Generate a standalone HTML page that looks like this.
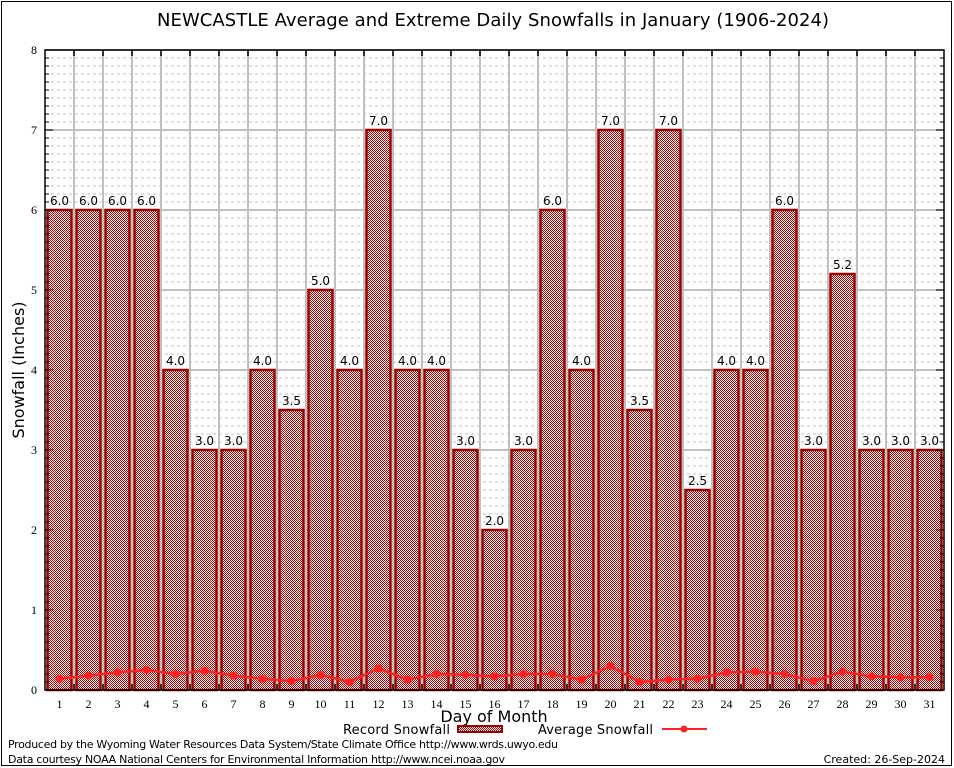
<!DOCTYPE html>
<html><head><meta charset="utf-8"><style>
body{margin:0;background:#fff}
svg{display:block;font-family:"DejaVu Sans","Liberation Sans",sans-serif}
</style></head><body>
<svg id="c" width="954" height="768" viewBox="0 0 954 768">
<defs>
<pattern id="chk" width="2" height="2" patternUnits="userSpaceOnUse">
<rect width="2" height="2" fill="#fff" shape-rendering="crispEdges"/><rect width="1" height="1" fill="#b00000" shape-rendering="crispEdges"/><rect x="1" y="1" width="1" height="1" fill="#b00000" shape-rendering="crispEdges"/>
</pattern>
</defs>
<rect x="1.5" y="1.5" width="950" height="764" fill="none" stroke="#000" stroke-width="1"/>
<text x="493" y="26" font-size="18" text-anchor="middle" textLength="672">NEWCASTLE Average and Extreme Daily Snowfalls in January (1906-2024)</text>
<g id="grid"></g>
<g id="bars"></g>
<g id="line"></g>
<g id="axes"></g>
<text transform="translate(24,370) rotate(-90)" font-size="16" text-anchor="middle">Snowfall (Inches)</text>
<text x="494" y="722" font-size="16" text-anchor="middle">Day of Month</text>
<g>
<text x="450" y="734" font-size="13" text-anchor="end" textLength="107">Record Snowfall</text>
<rect x="458" y="726" width="44" height="6" fill="url(#chk)" stroke="#990000" stroke-width="2"/>
</g>
<g>
<text x="653" y="734" font-size="13" text-anchor="end" textLength="115">Average Snowfall</text>
<line x1="662" y1="729" x2="707" y2="729" stroke="#ff2020" stroke-width="2"/>
<circle cx="684" cy="729" r="3.5" fill="#ff2020"/>
</g>
<text x="8" y="748" font-size="11" textLength="550">Produced by the Wyoming Water Resources Data System/State Climate Office http://www.wrds.uwyo.edu</text>
<text x="8" y="763" font-size="11" textLength="497">Data courtesy NOAA National Centers for Environmental Information http://www.ncei.noaa.gov</text>
<text x="945" y="763" font-size="11" text-anchor="end">Created: 26-Sep-2024</text>
</svg>
<script>
const days=[1,2,3,4,5,6,7,8,9,10,11,12,13,14,15,16,17,18,19,20,21,22,23,24,25,26,27,28,29,30,31];
const records=[6.0,6.0,6.0,6.0,4.0,3.0,3.0,4.0,3.5,5.0,4.0,7.0,4.0,4.0,3.0,2.0,3.0,6.0,4.0,7.0,3.5,7.0,2.5,4.0,4.0,6.0,3.0,5.2,3.0,3.0,3.0];
const averages=[0.14,0.18,0.22,0.25,0.2,0.24,0.18,0.14,0.11,0.19,0.1,0.27,0.13,0.2,0.19,0.17,0.2,0.2,0.13,0.3,0.1,0.13,0.14,0.22,0.23,0.2,0.11,0.23,0.17,0.16,0.16];
const yTicks=[0,1,2,3,4,5,6,7,8];
const NS='http://www.w3.org/2000/svg';
const L=45,R=944,T=50,B=690,YMAX=8;
const step=(R-L)/days.length;
function xc(i){return L+step*(i+0.5);}
function y(v){return B-(v/YMAX)*(B-T);}
function mk(tag,attrs,parent){const e=document.createElementNS(NS,tag);for(const k in attrs)e.setAttribute(k,attrs[k]);parent.appendChild(e);return e;}
const grid=document.getElementById('grid'),bars=document.getElementById('bars'),line=document.getElementById('line'),axes=document.getElementById('axes');
for(let m=1;m<YMAX*10;m++){if(m%10===0)continue;const yy=y(m/10);
 const g=mk('line',{x1:L,x2:R,y1:yy,y2:yy,stroke:'#c0c0c0','stroke-dasharray':'3,3','stroke-width':1},grid);
 
 
 mk('line',{x1:L,x2:L+4,y1:yy,y2:yy,stroke:'#000'},axes);mk('line',{x1:R-4,x2:R,y1:yy,y2:yy,stroke:'#000'},axes);}
yTicks.forEach(v=>{const yy=y(v);
 const g=mk('line',{x1:L,x2:R,y1:yy,y2:yy,stroke:'#c0c0c0','stroke-width':2},grid);
 
 
 mk('line',{x1:L,x2:L+8,y1:yy,y2:yy,stroke:'#000'},axes);mk('line',{x1:R-8,x2:R,y1:yy,y2:yy,stroke:'#000'},axes);
 const t=mk('text',{x:L-8,y:yy+4,'font-size':12,'text-anchor':'end','font-family':'Liberation Serif, serif'},axes);t.textContent=v;
 
 });
for(let i=1;i<days.length;i++){const xx=L+step*i;
 const g=mk('line',{x1:xx,x2:xx,y1:T,y2:B,stroke:'#c0c0c0','stroke-width':2},grid);
 
 
 mk('line',{x1:xx,x2:xx,y1:T,y2:T+6,stroke:'#000','stroke-width':1.5},axes);
 mk('line',{x1:xx,x2:xx,y1:B-6,y2:B,stroke:'#000','stroke-width':1.5},axes);}
days.forEach((d,i)=>{const w=24,h=B-y(records[i]);
 const r=mk('rect',{x:xc(i)-w/2,y:y(records[i]),width:w,height:h,fill:'url(#chk)',stroke:'#990000','stroke-width':2.5},bars);
 
 
 const t=mk('text',{x:xc(i),y:y(records[i])-5,'font-size':12,'text-anchor':'middle'},bars);t.textContent=records[i].toFixed(1);
 
 
 const xl=mk('text',{x:xc(i),y:708,'font-size':12,'text-anchor':'middle','font-family':'Liberation Serif, serif'},axes);xl.textContent=d;
 
 });
const pl=mk('polyline',{points:averages.map((v,i)=>xc(i)+','+y(v)).join(' '),fill:'none',stroke:'#ff2020','stroke-width':2.5},line);


averages.forEach((v,i)=>{const c=mk('circle',{cx:xc(i),cy:y(v),r:4,fill:'#ff2020'},line);
 
 });
const fr=mk('rect',{x:L,y:T,width:R-L,height:B-T,fill:'none',stroke:'#000','stroke-width':1.5},axes);


</script>
</body></html>
